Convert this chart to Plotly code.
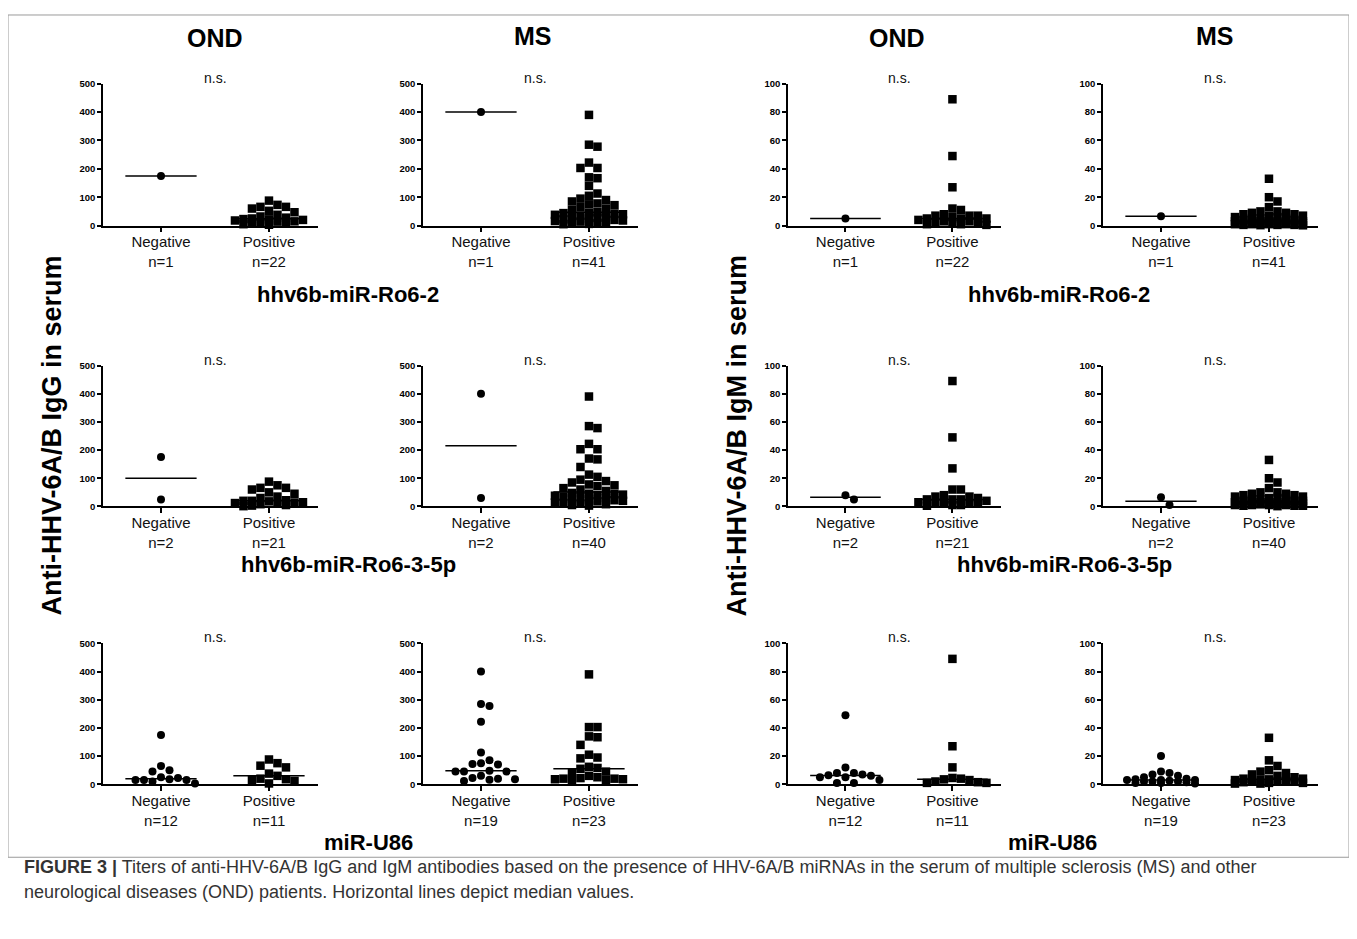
import numpy as np
import plotly.graph_objects as go

# page offset / screenshot scale compensation
OX, OY, SY = 8, 13.45, 0.9885
W, H = 1357 - 2 * OX, 915
FONT = "Liberation Sans, Arial, sans-serif"

categories = ["Negative", "Positive"]
groups = ["OND", "MS"]
mirnas = ["hhv6b-miR-Ro6-2", "hhv6b-miR-Ro6-3-5p", "miR-U86"]
igg_ticks = [0, 100, 200, 300, 400, 500]
igm_ticks = [0, 20, 40, 60, 80, 100]

# ---- IgG, hhv6b-miR-Ro6-2
igg_ro62_ond_neg = [175]
igg_ro62_ond_pos = [88, 73, 66, 66, 60, 52, 47, 38, 32, 28, 25, 23, 22, 20, 18, 15, 14, 12, 10, 8, 5, 3]
igg_ro62_ms_neg = [400]
igg_ro62_ms_pos = [390, 285, 278, 222, 203, 203, 170, 167, 140, 113, 105, 95, 90, 85, 78, 75, 72, 65, 60, 55,
                   47, 45, 44, 42, 40, 38, 35, 33, 30, 28, 25, 22, 20, 18, 16, 14, 12, 10, 8, 6, 5]
# ---- IgG, hhv6b-miR-Ro6-3-5p
igg_ro635p_ond_neg = [175, 25]
igg_ro635p_ond_pos = [88, 75, 66, 66, 60, 50, 45, 35, 30, 22, 20, 20, 18, 15, 14, 12, 10, 8, 5, 3, 1]
igg_ro635p_ms_neg = [400, 30]
igg_ro635p_ms_pos = [390, 285, 278, 222, 203, 203, 170, 167, 140, 113, 105, 95, 90, 85, 78, 75, 72, 65, 60, 55,
                     48, 45, 44, 42, 40, 38, 35, 33, 30, 28, 25, 22, 20, 18, 14, 12, 10, 8, 5, 3]
# ---- IgG, miR-U86
igg_u86_ond_neg = [175, 65, 50, 45, 25, 22, 18, 15, 15, 15, 10, 3]
igg_u86_ond_pos = [88, 75, 66, 60, 38, 30, 20, 18, 15, 12, 3]
igg_u86_ms_neg = [400, 285, 278, 222, 113, 85, 75, 72, 70, 48, 45, 45, 45, 30, 22, 20, 18, 16, 12]
igg_u86_ms_pos = [390, 203, 203, 170, 167, 140, 105, 95, 92, 62, 58, 55, 45, 40, 30, 25, 22, 20, 20, 18, 18, 15, 12]
# ---- IgM, hhv6b-miR-Ro6-2
igm_ro62_ond_neg = [5]
igm_ro62_ond_pos = [89, 49, 27, 12, 11, 8, 7, 7, 7, 6, 5, 5, 5, 4, 3, 3, 2, 2, 2, 1, 1, 0.5]
igm_ro62_ms_neg = [6.5]
igm_ro62_ms_pos = [33, 20, 17, 13, 10, 10, 9, 9, 8, 8, 7, 7, 6, 6, 5, 5, 5, 4, 4, 4, 3, 3, 3, 3, 2.5, 2.5,
                   2, 2, 2, 2, 1.5, 1.5, 1, 1, 1, 1, 0.5, 0.5, 0.5, 0.3, 0.2]
# ---- IgM, hhv6b-miR-Ro6-3-5p
igm_ro635p_ond_neg = [5, 8]
igm_ro635p_ond_pos = [89, 49, 27, 12, 12, 8, 7, 7, 6, 5, 5, 5, 4, 3, 3, 2, 2, 2, 1, 1, 0.5]
igm_ro635p_ms_neg = [1, 6.5]
igm_ro635p_ms_pos = [33, 20, 17, 13, 10, 10, 9, 9, 8, 8, 7, 7, 6, 6, 5, 5, 5, 4, 4, 4, 3, 3, 3, 3, 2.5, 2.5,
                     2, 2, 2, 2, 1.5, 1.5, 1, 1, 1, 1, 0.5, 0.5, 0.5, 0.2]
# ---- IgM, miR-U86
igm_u86_ond_neg = [49, 12, 8, 8, 7, 6.5, 6, 5, 5, 3, 1, 1]
igm_u86_ond_pos = [89, 27, 12, 4.5, 4, 3.5, 3, 2, 1.5, 1, 1]
igm_u86_ms_neg = [20, 9, 8, 7, 6, 5, 4, 3.5, 3, 3, 3, 2.5, 2, 2, 2, 1.5, 1, 1, 0.5]
igm_u86_ms_pos = [33, 17, 13, 10, 9, 8, 7, 6, 5, 4, 4, 3.5, 3, 3, 2.5, 2, 2, 2, 1.5, 1, 1, 0.5, 0.5]

panels = [
    (0, 0, igg_ro62_ond_neg, igg_ro62_ond_pos, igg_ticks),
    (0, 1, igg_ro62_ms_neg, igg_ro62_ms_pos, igg_ticks),
    (0, 2, igm_ro62_ond_neg, igm_ro62_ond_pos, igm_ticks),
    (0, 3, igm_ro62_ms_neg, igm_ro62_ms_pos, igm_ticks),
    (1, 0, igg_ro635p_ond_neg, igg_ro635p_ond_pos, igg_ticks),
    (1, 1, igg_ro635p_ms_neg, igg_ro635p_ms_pos, igg_ticks),
    (1, 2, igm_ro635p_ond_neg, igm_ro635p_ond_pos, igm_ticks),
    (1, 3, igm_ro635p_ms_neg, igm_ro635p_ms_pos, igm_ticks),
    (2, 0, igg_u86_ond_neg, igg_u86_ond_pos, igg_ticks),
    (2, 1, igg_u86_ms_neg, igg_u86_ms_pos, igg_ticks),
    (2, 2, igm_u86_ond_neg, igm_u86_ond_pos, igm_ticks),
    (2, 3, igm_u86_ms_neg, igm_u86_ms_pos, igm_ticks),
]

col_px = [(103, 318), (423, 638), (788, 1001), (1103, 1318)]
row_px = [(83, 225), (365, 506), (643, 784)]
XMIN, XMAX = 0.463, 2.454
HALF = 0.33


def px_x(p):
    return (p - OX) / W


def px_y(p):
    return 1 - (p / SY - OY) / H


def swarm(vals, ypx, xpx, size_px, step_px, maxw=40):
    vals = np.asarray(vals, float)
    order = np.argsort(-vals, kind="stable")
    placed = []
    off = np.zeros(len(vals))
    cands = [0.0] + [s * k * step_px for k in range(1, 30) for s in (1, -1)]
    cands = [c for c in cands if abs(c) <= maxw]
    for i in order:
        y = vals[i] * ypx
        chosen, bestc, bestd = None, 0.0, -1
        for c in cands:
            d = min((max(abs(c - a), abs(y - b)) for a, b in placed), default=1e9)
            if d >= size_px:
                chosen = c
                break
            if d > bestd:
                bestd, bestc = d, c
        if chosen is None:
            chosen = bestc
        placed.append((chosen, y))
        off[i] = chosen / xpx
    return off


fig = go.Figure()
layout = dict(
    width=W, height=H, margin=dict(l=0, r=0, t=0, b=0),
    paper_bgcolor="white", plot_bgcolor="white", showlegend=False,
    font=dict(family=FONT, color="black"),
)
annotations = []

for idx, (r, c, neg, pos, yt) in enumerate(panels):
    n = idx + 1
    sfx = "" if n == 1 else str(n)
    xa, ya = "x" + sfx, "y" + sfx
    x0, x1 = col_px[c]
    y0, y1 = row_px[r]
    ymax = yt[-1]
    ypx = (y1 - y0) / ymax
    xpx = (x1 - x0) / (XMAX - XMIN)
    for j, (vals, sym, sz, spx) in enumerate([(neg, "circle", 8, 8.5), (pos, "square", 8.5, 8.5)]):
        xc = j + 1
        off = swarm(vals, ypx, xpx, spx, spx)
        fig.add_trace(go.Scatter(
            x=xc + off, y=vals, mode="markers", xaxis=xa, yaxis=ya,
            marker=dict(symbol=sym, size=sz, color="black", line=dict(width=0)),
            cliponaxis=False, hoverinfo="y"))
        med = float(np.median(vals))
        fig.add_trace(go.Scatter(
            x=[xc - HALF, xc + HALF], y=[med, med], mode="lines", xaxis=xa, yaxis=ya,
            line=dict(color="black", width=1.5), cliponaxis=False, hoverinfo="skip"))
    layout["xaxis" + sfx] = dict(
        domain=[px_x(x0), px_x(x1)], anchor=ya, range=[XMIN, XMAX],
        tickvals=[1, 2],
        ticktext=[f"{categories[0]}<br>n={len(neg)}", f"{categories[1]}<br>n={len(pos)}"],
        ticks="outside", ticklen=5, tickwidth=1.5, tickcolor="black",
        ticklabelstandoff=-3,
        showline=True, linecolor="black", linewidth=1.5,
        showgrid=False, zeroline=False, fixedrange=True,
        tickfont=dict(family=FONT, size=15, color="#111"))
    layout["yaxis" + sfx] = dict(
        domain=[px_y(y1), px_y(y0)], anchor=xa, range=[0, ymax],
        tickvals=yt, ticks="outside", ticklen=4, tickwidth=1.5, tickcolor="black",
        showline=True, linecolor="black", linewidth=1.5,
        showgrid=False, zeroline=False, fixedrange=True,
        tickfont=dict(family=FONT, size=9.5, color="black", weight="bold"))
    annotations.append(dict(
        x=px_x((x0 + x1) / 2 + 5), y=px_y(row_px[r][0] - 6), xref="paper", yref="paper",
        text="n.s.", showarrow=False, font=dict(family=FONT, size=14, color="#111"),
        xanchor="center", yanchor="middle"))

# column titles
for cx, cy, t in [(215, 37, groups[0]), (533, 35, groups[1]), (897, 37, groups[0]), (1215, 35, groups[1])]:
    annotations.append(dict(x=px_x(cx), y=px_y(cy), xref="paper", yref="paper", text=f"<b>{t}</b>",
                            showarrow=False, font=dict(family=FONT, size=25, color="black"),
                            xanchor="center", yanchor="middle"))
# miRNA row labels
for (lx, rx), ry, t in [((348, 1059), 294, mirnas[0]), ((348, 1064), 564, mirnas[1]), ((369, 1052), 842, mirnas[2])]:
    for xx in (lx, rx):
        annotations.append(dict(x=px_x(xx), y=px_y(ry), xref="paper", yref="paper", text=f"<b>{t}</b>",
                                showarrow=False, font=dict(family=FONT, size=22, color="black"),
                                xanchor="center", yanchor="middle"))
# y titles
for xx, t in [(52, "Anti-HHV-6A/B IgG in serum"), (737, "Anti-HHV-6A/B IgM in serum")]:
    annotations.append(dict(x=px_x(xx), y=px_y(435), xref="paper", yref="paper", text=f"<b>{t}</b>",
                            showarrow=False, textangle=-90, font=dict(family=FONT, size=27, color="black"),
                            xanchor="center", yanchor="middle"))
# caption
cap_lines = [
    ("<b>FIGURE 3 |</b> Titers of anti-HHV-6A/B IgG and IgM antibodies based on the presence of HHV-6A/B miRNAs "
     "in the serum of multiple sclerosis (MS) and other", 867),
    ("neurological diseases (OND) patients. Horizontal lines depict median values.", 892),
]
for txt, cy in cap_lines:
    annotations.append(dict(
        x=px_x(22), y=px_y(cy), xref="paper", yref="paper", xanchor="left", yanchor="middle", align="left",
        showarrow=False, font=dict(family=FONT, size=18, color="#333"), text=txt))

layout["annotations"] = annotations
layout["shapes"] = [dict(type="rect", xref="paper", yref="paper",
                         x0=px_x(8), x1=px_x(1349), y0=px_y(857), y1=1 - 1.0 / H,
                         line=dict(color="#9a9a9a", width=1), fillcolor="rgba(0,0,0,0)", layer="below")]
fig.update_layout(**layout)
fig.write_html("out.html")
